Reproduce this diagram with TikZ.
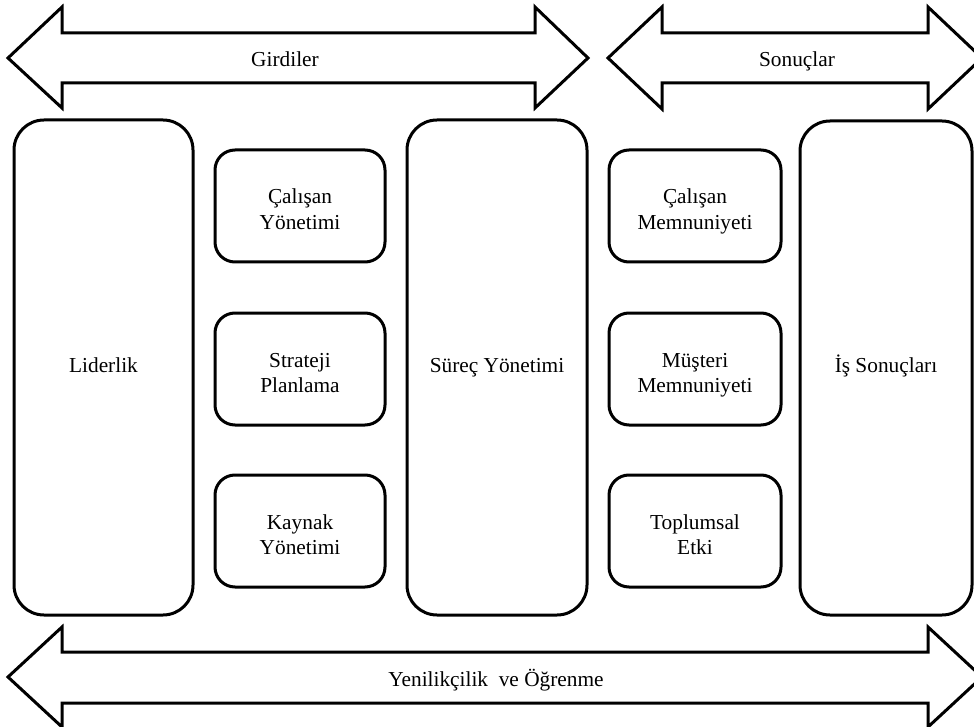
\documentclass[tikz,border=0pt]{standalone}
\usepackage{fontspec}
\setmainfont{Liberation Serif}
\newcommand{\topstrut}{\rule{0pt}{20pt}}
\newcommand{\botstrut}{\rule[-4pt]{0pt}{4pt}}
\begin{document}
\begin{tikzpicture}[x=0.75pt,y=-0.75pt,
  outl/.style={draw=black, line width=2.25pt, line join=miter},
  bigbox/.style={outl, rounded corners=22.5pt, minimum width=#1, minimum height=371.25pt, inner sep=0pt, text height=11pt, text depth=4.25pt, font=\fontsize{16}{19}\selectfont},
  smallbox/.style={outl, rounded corners=15pt, minimum width=#1, minimum height=84pt, inner sep=0pt, align=center, font=\fontsize{16}{19}\selectfont},
  lbl/.style={font=\fontsize{16}{19}\selectfont, inner sep=0pt, anchor=base}]
\useasboundingbox (0,0) rectangle (974,727);
\clip (0,0) rectangle (974,727);
% top-left arrow
\draw[outl] (8,58) -- (62,7) -- (62,33) -- (535,33) -- (535,7) -- (588,58) -- (535,108) -- (535,83) -- (62,83) -- (62,108) -- cycle;
\node[lbl] (girdiler) at (285,67) {Girdiler};
% top-right arrow
\draw[outl] (608,58) -- (662,7) -- (662,33) -- (928,33) -- (928,7) -- (982,58) -- (928,109) -- (928,83) -- (662,83) -- (662,109) -- cycle;
\node[lbl] (sonuclar) at (797,67) {Sonuçlar};
% bottom arrow
\draw[outl] (8,677) -- (62,627) -- (62,652) -- (928,652) -- (928,627) -- (982,677) -- (928,727) -- (928,703) -- (62,703) -- (62,727) -- cycle;
\node[lbl] (yenilik) at (496,686) {Yenilikçilik~ ve Öğrenme};
% boxes
\node[bigbox=134.25pt] (liderlik) at (103.5,367.5) {Liderlik};
\node[smallbox=127.5pt] (calisan) at (300,206) {\topstrut Çalışan\\Yönetimi\botstrut};
\node[smallbox=127.5pt] (strateji) at (300,369) {\topstrut Strateji\\Planlama\botstrut};
\node[smallbox=127.5pt] (kaynak) at (300,531) {\topstrut Kaynak\\Yönetimi\botstrut};
\node[bigbox=135pt] (surec) at (497,367.5) {Süreç Yönetimi};
\node[smallbox=129pt] (calmem) at (695,206) {\topstrut Çalışan\\Memnuniyeti\botstrut};
\node[smallbox=129pt] (musteri) at (695,369) {\topstrut Müşteri\\Memnuniyeti\botstrut};
\node[smallbox=129pt] (toplum) at (695,531) {\topstrut Toplumsal\\Etki\botstrut};
\node[bigbox=129pt, minimum height=370.5pt] (is) at (886,368) {İş Sonuçları};
\end{tikzpicture}
\end{document}
